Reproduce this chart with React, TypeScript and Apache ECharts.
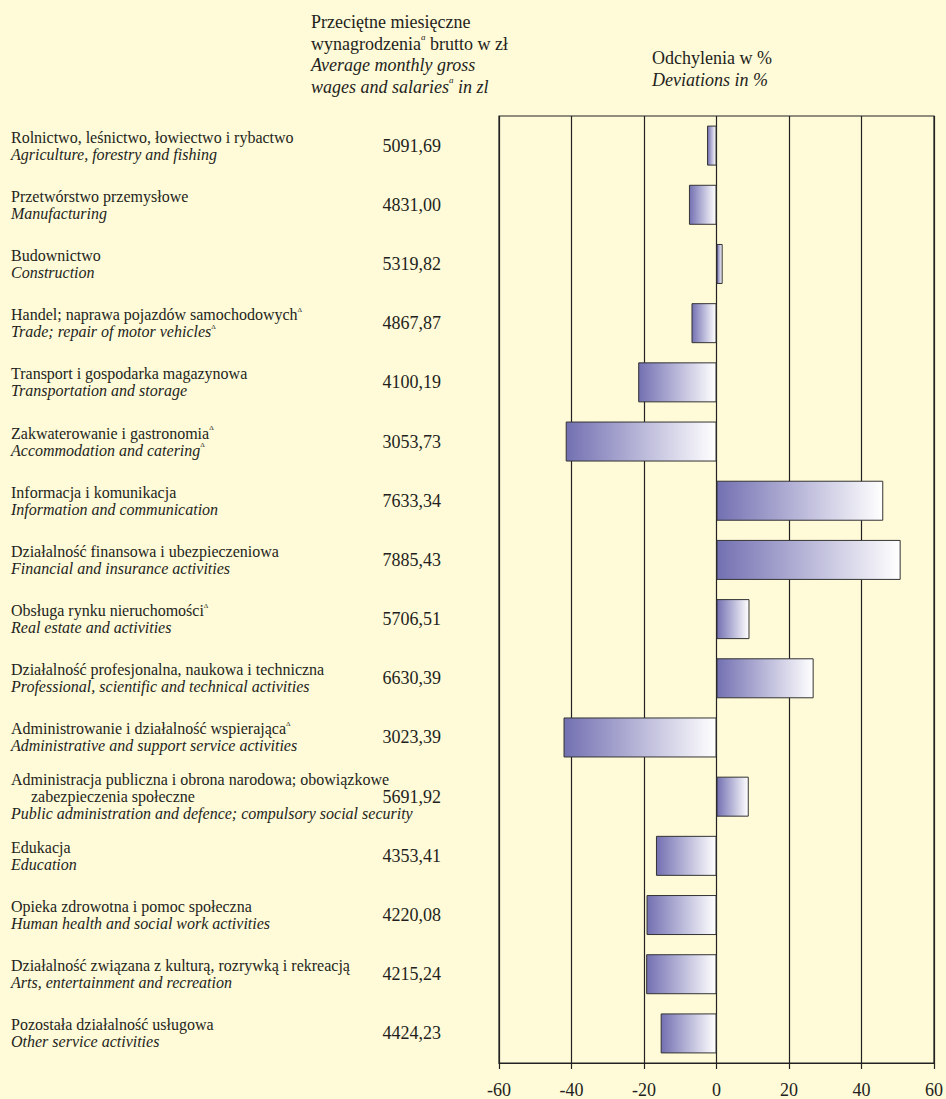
import React, { useEffect, useRef } from "react";
import * as echarts from "echarts";

const namesPl: string[] = [
  "Rolnictwo, leśnictwo, łowiectwo i rybactwo",
  "Przetwórstwo przemysłowe",
  "Budownictwo",
  "Handel; naprawa pojazdów samochodowych",
  "Transport i gospodarka magazynowa",
  "Zakwaterowanie i gastronomia",
  "Informacja i komunikacja",
  "Działalność finansowa i ubezpieczeniowa",
  "Obsługa rynku nieruchomości",
  "Działalność profesjonalna, naukowa i techniczna",
  "Administrowanie i działalność wspierająca",
  "Administracja publiczna i obrona narodowa; obowiązkowe|zabezpieczenia społeczne",
  "Edukacja",
  "Opieka zdrowotna i pomoc społeczna",
  "Działalność związana z kulturą, rozrywką i rekreacją",
  "Pozostała działalność usługowa",
];
const plMarked: boolean[] = [false, false, false, true, false, true, false, false, true, false, true, false, false, false, false, false];
const namesEn: string[] = [
  "Agriculture, forestry and fishing",
  "Manufacturing",
  "Construction",
  "Trade; repair of motor vehicles",
  "Transportation and storage",
  "Accommodation and catering",
  "Information and communication",
  "Financial and insurance activities",
  "Real estate and activities",
  "Professional, scientific and technical activities",
  "Administrative and support service activities",
  "Public administration and defence; compulsory social security",
  "Education",
  "Human health and social work activities",
  "Arts, entertainment and recreation",
  "Other service activities",
];
const enMarked: boolean[] = [false, false, false, true, false, true, false, false, false, false, false, false, false, false, false, false];
const wages: string[] = [
  "5091,69", "4831,00", "5319,82", "4867,87", "4100,19", "3053,73", "7633,34", "7885,43",
  "5706,51", "6630,39", "3023,39", "5691,92", "4353,41", "4220,08", "4215,24", "4424,23",
];
const deviations: number[] = [
  -2.6, -7.6, 1.7, -6.9, -21.6, -41.6, 46.0, 50.8, 9.1, 26.8, -42.2, 8.9, -16.7, -19.3, -19.4, -15.4,
];
const xTicks = { min: -60, max: 60, interval: 20 };

const FONT = "'Liberation Serif', 'Times New Roman', serif";
const TXT = "#231f20";
const BG = "#fffad8";

export default function App() {
  const ref = useRef<HTMLDivElement>(null);
  useEffect(() => {
    document.documentElement.style.overflow = "hidden";
    document.body.style.margin = "0";
    document.body.style.background = BG;
    const chart = echarts.init(ref.current!, null, { renderer: "svg" });
    const labelStyle = { fontFamily: FONT, fontSize: 16, color: TXT, lineHeight: 17 };
    const option: any = {
      animation: false,
      backgroundColor: BG,
      grid: {
        left: 499,
        right: 8,
        top: 116,
        bottom: 36,
        show: true,
        borderColor: "#222",
        borderWidth: 1.2,
        backgroundColor: "transparent",
      },
      xAxis: {
        type: "value",
        min: xTicks.min,
        max: xTicks.max,
        interval: xTicks.interval,
        axisLine: { show: true, onZero: false, lineStyle: { color: "#222", width: 1.2 } },
        axisTick: { show: true, length: 6, lineStyle: { color: "#222", width: 1.2 } },
        splitLine: { show: true, lineStyle: { color: "#222", width: 1.2 } },
        axisLabel: { fontFamily: FONT, fontSize: 18, color: TXT, margin: 18 },
      },
      yAxis: [
        {
          type: "category",
          inverse: true,
          data: namesPl.map((_, i) => String(i)),
          axisLine: { show: false },
          axisTick: { show: false },
          axisLabel: {
            interval: 0,
            align: "left",
            margin: 488,
            formatter: (_: string, i: number) => {
              const pl = namesPl[i];
              const supPl = plMarked[i] ? "{sup|Δ}" : "";
              const supEn = enMarked[i] ? "{supi|Δ}" : "";
              let plPart: string;
              if (pl.includes("|")) {
                const [a, b] = pl.split("|");
                plPart = `{pl|${a}}\n{ind|${b}}`;
              } else {
                plPart = `{pl|${pl}}${supPl}`;
              }
              return `${plPart}\n{en|${namesEn[i]}}${supEn}`;
            },
            rich: {
              pl: { ...labelStyle },
              ind: { ...labelStyle, padding: [0, 0, 0, 20] },
              en: { ...labelStyle, fontStyle: "italic" },
              sup: { fontFamily: FONT, fontSize: 7, color: TXT, lineHeight: 9, verticalAlign: "top" },
              supi: { fontFamily: FONT, fontSize: 7, color: TXT, lineHeight: 9, verticalAlign: "top" },
            },
          },
        },
        {
          type: "category",
          inverse: true,
          position: "left",
          data: wages,
          axisLine: { show: false },
          axisTick: { show: false },
          axisLabel: {
            interval: 0,
            align: "right",
            margin: 58,
            fontFamily: FONT,
            fontSize: 18,
            color: TXT,
          },
        },
      ],
      series: [
        {
          type: "bar",
          yAxisIndex: 0,
          data: deviations,
          barWidth: 40,
          itemStyle: {
            color: new echarts.graphic.LinearGradient(0, 0, 1, 0, [
              { offset: 0, color: "#7370b2" },
              { offset: 1, color: "#ffffff" },
            ]),
            borderColor: "#333",
            borderWidth: 1,
          },
        },
      ],
      graphic: [
        {
          type: "text",
          left: 311,
          top: 13,
          style: {
            text: "{n|Przeciętne miesięczne}\n{n|wynagrodzenia}{s|a}{n| brutto w zł}\n{i|Average monthly gross}\n{i|wages and salaries}{si|a}{i| in zl}",
            rich: {
              n: { fontFamily: FONT, fontSize: 18, fill: TXT, lineHeight: 21.5 },
              i: { fontFamily: FONT, fontSize: 18, fill: TXT, lineHeight: 21.5, fontStyle: "italic" },
              s: { fontFamily: FONT, fontSize: 9, fill: TXT, lineHeight: 11, verticalAlign: "top", fontStyle: "italic" },
              si: { fontFamily: FONT, fontSize: 9, fill: TXT, lineHeight: 11, verticalAlign: "top", fontStyle: "italic" },
            },
          },
        },
        {
          type: "text",
          left: 652,
          top: 49,
          style: {
            text: "{n|Odchylenia w %}\n{i|Deviations in %}",
            rich: {
              n: { fontFamily: FONT, fontSize: 18, fill: TXT, lineHeight: 21.5 },
              i: { fontFamily: FONT, fontSize: 18, fill: TXT, lineHeight: 21.5, fontStyle: "italic" },
            },
          },
        },
      ],
    };
    chart.setOption(option);
    return () => chart.dispose();
  }, []);
  return <div ref={ref} style={{ width: 946, height: 1099 }} />;
}
